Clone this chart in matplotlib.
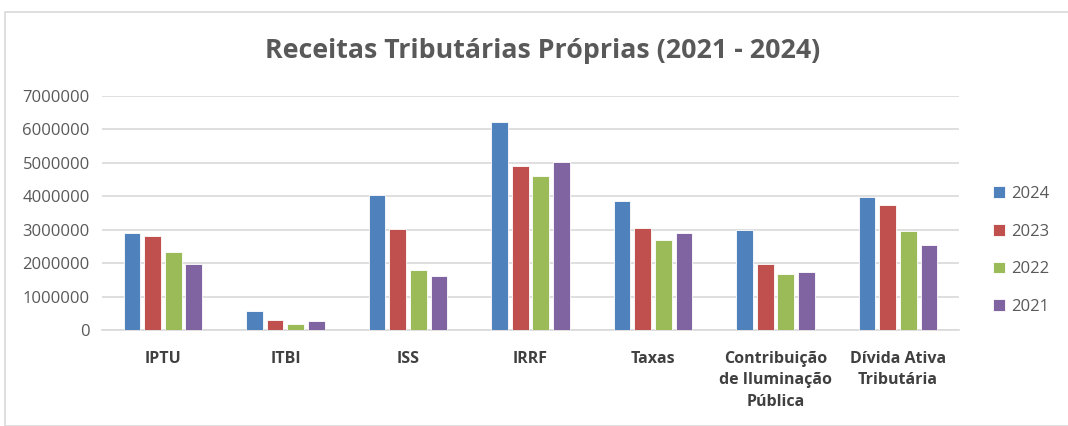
import numpy as np
import matplotlib.pyplot as plt
from matplotlib.patches import Rectangle

categorias = ['IPTU', 'ITBI', 'ISS', 'IRRF', 'Taxas',
              'Contribuição\nde Iluminação\nPública', 'Dívida Ativa\nTributária']
anos = ['2024', '2023', '2022', '2021']
v2024 = [2910000, 580000, 4030000, 6230000, 3870000, 2990000, 3970000]
v2023 = [2820000, 300000, 3020000, 4910000, 3040000, 1970000, 3730000]
v2022 = [2330000, 170000, 1780000, 4610000, 2690000, 1670000, 2960000]
v2021 = [1970000, 270000, 1600000, 5010000, 2910000, 1730000, 2530000]
cores = ['#4F81BD', '#C0504D', '#9BBB59', '#8064A2']

plt.rcParams['font.family'] = ['Open Sans', 'DejaVu Sans']

fig = plt.figure(figsize=(10.68, 4.26), dpi=100)
fig.patches.append(Rectangle((5 / 1068, 0), 1.1, (426 - 12) / 426, transform=fig.transFigure,
                             fill=False, edgecolor='#D9D9D9', linewidth=1.2))
ax = fig.add_axes([0.0952, 0.2254, 0.803, 0.5496])

x = np.arange(len(categorias))
series = [v2024, v2023, v2022, v2021]
passo = 0.168
for i, (s, c, ano) in enumerate(zip(series, cores, anos)):
    ax.bar(x + (i - 1.5) * passo, s, width=0.136, color=c, edgecolor='white',
           linewidth=0.6, label=ano, zorder=3)

ax.set_xlim(-0.5, len(categorias) - 0.5)
ax.set_ylim(0, 7000000)
ax.set_yticks(range(0, 7000001, 1000000))
ax.yaxis.set_major_formatter(plt.FuncFormatter(lambda v, p: '%d' % v))
ax.yaxis.grid(True, color='#D9D9D9', linewidth=1.2, zorder=0)
for sp in ['top', 'right', 'left']:
    ax.spines[sp].set_visible(False)
ax.spines['bottom'].set_color('#D9D9D9')
ax.spines['bottom'].set_linewidth(1.2)
ax.tick_params(axis='both', length=0)
ax.tick_params(axis='y', labelsize=12, labelcolor='#595959', pad=8.6)
ax.set_xticks(x)
ax.set_xticklabels(categorias, fontsize=11.5, fontweight='bold', color='#404040',
                   linespacing=1.45, va='top')
ax.tick_params(axis='x', pad=15)

fig.text(0.508, 0.88, 'Receitas Tributárias Próprias (2021 - 2024)', ha='center', va='center',
         fontsize=19.3, fontweight='bold', color='#595959')

leg = ax.legend(loc='center left', bbox_to_anchor=(1.022, 0.34), frameon=False, fontsize=12,
                handlelength=0.7, handleheight=0.7, handletextpad=0.4, labelspacing=1.3)
for t in leg.get_texts():
    t.set_color('#595959')

fig.savefig('out.png', dpi=100)
